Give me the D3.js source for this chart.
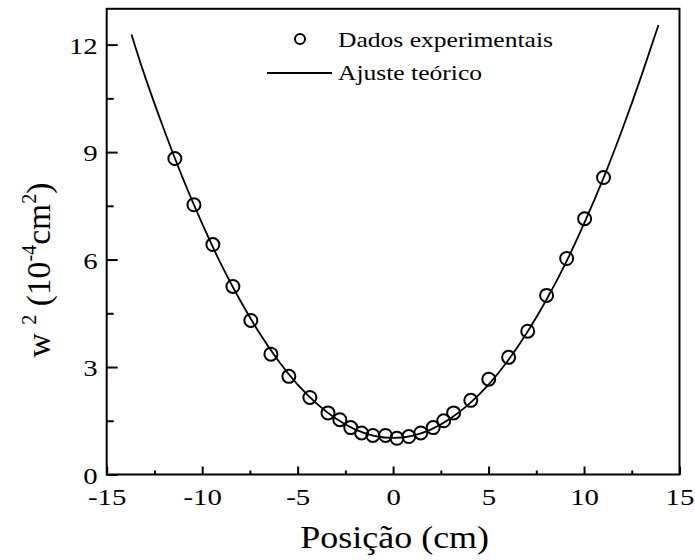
<!DOCTYPE html>
<html lang="pt">
<head>
<meta charset="utf-8">
<title>Ajuste do feixe</title>
<script src="https://d3js.org/d3.v7.min.js"></script>
<style>
  * { margin: 0; padding: 0; }
  body { background: white; width: 695px; height: 560px; overflow: hidden; }
  svg text { font-family: "Liberation Serif", "Times New Roman", serif; fill: black; }
</style>
</head>
<body>
<svg id="chart" width="695" height="560"></svg>
<script>
// measured points (posição em cm, w^2 em 10^-4 cm^2)
const dataX = [-11.43, -10.43, -9.44, -8.39, -7.45, -6.40, -5.46, -4.36, -3.41, -2.79,
               -2.22, -1.65, -1.06, -0.40, 0.20, 0.82, 1.45, 2.10, 2.65, 3.17,
               4.07, 5.01, 6.05, 7.05, 8.04, 9.09, 10.03, 11.02];
const dataY = [8.82, 7.53, 6.42, 5.25, 4.30, 3.36, 2.74, 2.15, 1.72, 1.53,
               1.31, 1.16, 1.09, 1.09, 1.01, 1.06, 1.16, 1.31, 1.50, 1.72,
               2.07, 2.66, 3.27, 4.00, 5.00, 6.03, 7.14, 8.29];

// fitted curve
const fitX = [-13.7, -13, -12, -11, -10, -9, -8, -7, -6, -5, -4, -3, -2, -1, 0,
              1, 2, 3, 4, 5, 6, 7, 8, 9, 10, 11, 12, 13, 13.9];
const fitY = [12.28, 11.12, 9.63, 8.25, 7.00, 5.86, 4.85, 3.95, 3.17, 2.51, 1.98, 1.56, 1.26, 1.08, 1.02,
              1.08, 1.26, 1.56, 1.98, 2.51, 3.17, 3.95, 4.85, 5.86, 7.00, 8.25, 9.63, 11.12, 12.55];

const xTicks = [-15, -10, -5, 0, 5, 10, 15];
const xMinor = [-12.5, -7.5, -2.5, 2.5, 7.5, 12.5];
const yTicks = [0, 3, 6, 9, 12];
const yMinor = [1.5, 4.5, 7.5, 10.5];

const plotL = 106.7, plotR = 679.5, plotT = 8.8, plotB = 474.5;
const stretch = 1.2;

const svg = d3.select("#chart");

const x = d3.scaleLinear().domain([-15, 15]).range([plotL, plotR]);
const y = d3.scaleLinear().domain([0, 13]).range([plotB, plotT]);

// frame
svg.append("rect")
    .attr("x", plotL).attr("y", plotT)
    .attr("width", plotR - plotL).attr("height", plotB - plotT)
    .attr("fill", "none").attr("stroke", "black").attr("stroke-width", 2);

// x axis (plain hyphen for negatives, like the original)
const gx = svg.append("g").attr("transform", `translate(0,${plotB})`)
    .call(d3.axisBottom(x).tickValues(xTicks).tickFormat(d => String(d))
        .tickSizeInner(-8).tickSizeOuter(0));
gx.call(g => g.select(".domain").remove());
gx.selectAll(".tick line").attr("stroke-width", 2);
gx.selectAll(".tick text")
    .attr("font-size", 24).attr("y", 31).attr("dy", null)
    .attr("transform", `scale(${stretch},1)`);
gx.attr("font-family", null);

svg.append("g").attr("transform", `translate(0,${plotB})`)
    .call(d3.axisBottom(x).tickValues(xMinor).tickSizeInner(-4).tickSizeOuter(0).tickFormat(""))
    .call(g => g.select(".domain").remove())
    .selectAll(".tick line").attr("stroke-width", 2);

// y axis
const gy = svg.append("g").attr("transform", `translate(${plotL},0)`)
    .call(d3.axisLeft(y).tickValues(yTicks).tickSizeInner(-11).tickSizeOuter(0));
gy.call(g => g.select(".domain").remove());
gy.selectAll(".tick line").attr("stroke-width", 2);
gy.selectAll(".tick text")
    .attr("font-size", 24).attr("x", -9 / stretch).attr("dy", null).attr("y", 8.5)
    .attr("transform", `scale(${stretch},1)`);
gy.attr("font-family", null);

svg.append("g").attr("transform", `translate(${plotL},0)`)
    .call(d3.axisLeft(y).tickValues(yMinor).tickSizeInner(-7).tickSizeOuter(0).tickFormat(""))
    .call(g => g.select(".domain").remove())
    .selectAll(".tick line").attr("stroke-width", 2);

// fit curve
const fit = fitX.map((v, i) => [v, fitY[i]]);
svg.append("path")
    .datum(fit)
    .attr("fill", "none").attr("stroke", "black").attr("stroke-width", 1.8)
    .attr("d", d3.line().x(d => x(d[0])).y(d => y(d[1])).curve(d3.curveNatural));

// data points
const pts = dataX.map((v, i) => [v, dataY[i]]);
svg.selectAll("circle.pt")
    .data(pts)
    .enter()
    .append("circle")
    .attr("class", "pt")
    .attr("cx", d => x(d[0])).attr("cy", d => y(d[1]))
    .attr("r", 6.5)
    .attr("fill", "none").attr("stroke", "black").attr("stroke-width", 2);

// legend
svg.append("circle")
    .attr("cx", 300).attr("cy", 39).attr("r", 5)
    .attr("fill", "none").attr("stroke", "black").attr("stroke-width", 2);
svg.append("text")
    .attr("transform", `translate(338,47) scale(${stretch},1)`)
    .attr("font-size", 21.3)
    .text("Dados experimentais");
svg.append("line")
    .attr("x1", 267).attr("x2", 332).attr("y1", 73).attr("y2", 73)
    .attr("stroke", "black").attr("stroke-width", 1.8);
svg.append("text")
    .attr("transform", `translate(338,80) scale(${stretch},1)`)
    .attr("font-size", 21.3)
    .text("Ajuste teórico");

// axis titles
svg.append("text")
    .attr("transform", `translate(394.7,548) scale(1.16,1)`)
    .attr("text-anchor", "middle")
    .attr("font-size", 31)
    .text("Posição (cm)");

const yl = svg.append("text")
    .attr("transform", `translate(50,270) rotate(-90) scale(1.12,1.15)`)
    .attr("text-anchor", "middle")
    .attr("font-size", 30);
yl.append("tspan").text("w ");
yl.append("tspan").attr("font-size", 18).attr("dy", -12).text("2");
yl.append("tspan").attr("dy", 12).text(" (10");
yl.append("tspan").attr("font-size", 18).attr("dy", -12).text("-4");
yl.append("tspan").attr("dy", 12).text("cm");
yl.append("tspan").attr("font-size", 18).attr("dy", -12).text("2");
yl.append("tspan").attr("dy", 12).text(")");
</script>
</body>
</html>
